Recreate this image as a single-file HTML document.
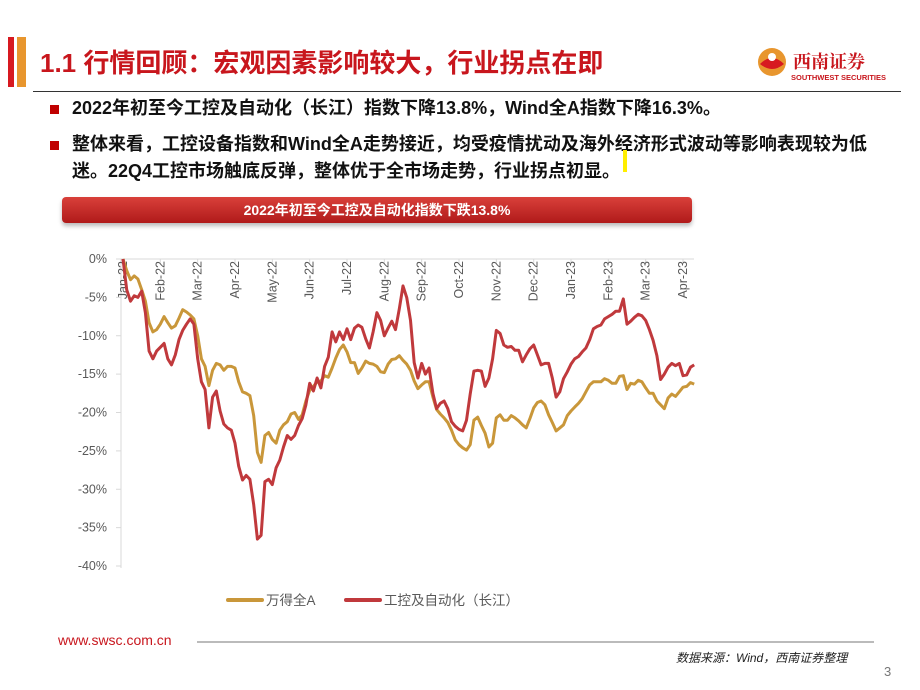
<!DOCTYPE html>
<html><head><meta charset="utf-8"><style>
body{margin:0;background:#fff;}
#page{position:relative;width:920px;height:690px;overflow:hidden;background:#fff;font-family:"Liberation Sans","Noto Sans CJK SC",sans-serif;}
.abs{position:absolute;}
.bul{position:absolute;left:72px;font-size:18px;font-weight:bold;color:#111;line-height:27px;width:818px;}
.sq{position:absolute;left:50px;width:9px;height:9px;background:#c00000;}
</style></head><body>
<div id="page">
  <div class="abs" style="left:8px;top:37px;width:6px;height:50px;background:#d71920"></div>
  <div class="abs" style="left:17px;top:37px;width:9px;height:50px;background:#e8962e"></div>
  <div class="abs" style="left:40px;top:43px;font-size:26px;font-weight:bold;color:#c8161d;">1.1 行情回顾：宏观因素影响较大，行业拐点在即</div>
  <div class="abs" style="left:757px;top:44px;width:140px;height:40px;">
    <svg width="140" height="40"><circle cx="15" cy="18" r="14" fill="#e8962e"/><path d="M3 20 Q15 8 27 20 Q15 30 3 20Z" fill="#d71920"/><circle cx="15" cy="13" r="4" fill="#fff"/>
    <text x="36" y="24" font-size="18" font-weight="bold" fill="#c8161d" font-family="Noto Serif CJK SC,serif">西南证券</text>
    <text x="34" y="36" font-size="7.5" font-weight="bold" fill="#c8161d">SOUTHWEST SECURITIES</text></svg>
  </div>
  <div class="abs" style="left:33px;top:91px;width:868px;height:1px;background:#333"></div>
  <div class="sq" style="top:105px"></div>
  <div class="bul" style="top:95px">2022年初至今工控及自动化（长江）指数下降13.8%，Wind全A指数下降16.3%。</div>
  <div class="sq" style="top:141px"></div>
  <div class="bul" style="top:131px">整体来看，工控设备指数和Wind全A走势接近，均受疫情扰动及海外经济形式波动等影响表现较为低迷。22Q4工控市场触底反弹，整体优于全市场走势，行业拐点初显。</div>
  <div class="abs" style="left:623px;top:150px;width:4px;height:22px;background:#ffee00"></div>
  <div class="abs" style="left:62px;top:197px;width:630px;height:26px;background:linear-gradient(#d9403a,#b01a1a);border-radius:4px;box-shadow:0 3px 4px #bbb;color:#fff;font-size:14px;font-weight:bold;text-align:center;line-height:26px;">2022年初至今工控及自动化指数下跌13.8%</div>
  <svg id="chart" class="abs" style="left:0;top:0" width="920" height="690"></svg>
  <div class="abs" style="left:58px;top:632px;font-size:14px;color:#c8161d;">www.swsc.com.cn</div>
  <div class="abs" style="left:197px;top:641px;width:677px;height:2px;background:#bbb"></div>
  <div class="abs" style="left:676px;top:649px;font-size:12px;font-style:italic;color:#222;">数据来源：Wind，西南证券整理</div>
  <div class="abs" style="left:884px;top:664px;font-size:13px;color:#777;">3</div>
</div>
<script>
const monthLabels=["Jan-22","Feb-22","Mar-22","Apr-22","May-22","Jun-22","Jul-22","Aug-22","Sep-22","Oct-22","Nov-22","Dec-22","Jan-23","Feb-23","Mar-23","Apr-23"];
const yTicks=[0,-5,-10,-15,-20,-25,-30,-35,-40];
const stepMonths=0.1;
const seriesRed=[0,-4,-5.5,-4.8,-5,-4.2,-7,-12,-13,-12,-11.5,-11,-13,-13.8,-12.5,-10.5,-9.3,-8.5,-7.8,-8.5,-13,-16,-17,-22,-18,-17.2,-19.8,-21.5,-22,-22.3,-24,-27,-28.8,-28.2,-28.7,-32,-36.5,-36,-29,-28.7,-29.4,-27.2,-26.2,-24.5,-23,-23.5,-23,-21.7,-20.8,-19,-16.2,-17.2,-15.5,-16.8,-14,-12.8,-9.5,-10.8,-9.5,-10.5,-9.1,-10.5,-9,-8.6,-8.9,-10.4,-11.6,-9.5,-7,-8,-10,-9,-8.1,-9.2,-6.5,-3.5,-5,-8,-13.5,-15.5,-13.6,-15,-14.2,-17.5,-19.5,-18.8,-18.5,-19.5,-21.2,-21.8,-22.2,-22.4,-21,-17.6,-14.6,-14.5,-14.6,-16.6,-15.5,-13,-9.3,-9.7,-11.2,-11.5,-11.4,-11.9,-11.9,-13.4,-12.5,-11.7,-11.2,-12.5,-13.8,-13.6,-13.6,-15.5,-18,-17.3,-15.6,-14.7,-13.7,-13,-12.7,-12.1,-11.6,-10.5,-9.1,-8.8,-8.6,-7.8,-7.5,-7.2,-6.8,-6.8,-5.2,-8.5,-8.1,-7.6,-7.2,-7.4,-8,-9.2,-10.6,-12.6,-15.7,-15,-14.1,-13.6,-13.9,-13.6,-15.2,-15.1,-14.1,-13.8];
const seriesGold=[0,-1.5,-2.7,-2.2,-2.6,-4,-5.5,-8.3,-9.5,-9.2,-8.5,-7.5,-8.3,-9,-8.7,-7.7,-6.6,-6.9,-7.3,-7.8,-10,-13,-14,-16.5,-14.5,-13.6,-13.8,-14.5,-14,-14,-14.2,-16,-17.3,-17.5,-17.8,-20.4,-25.2,-26.5,-23,-22.6,-23.5,-24,-22.3,-21.6,-21.2,-20.2,-20,-20.9,-20.3,-18.5,-17.1,-16.6,-16,-15.9,-15.2,-15.4,-14.2,-12.9,-11.8,-11.2,-12.1,-13.5,-13.5,-14.9,-14.2,-13.3,-13.6,-13.7,-14,-14.7,-14.8,-13.7,-13.1,-13,-12.6,-13.2,-13.7,-14.5,-15.9,-16.9,-16.4,-16,-16,-18,-19.6,-20.2,-20.7,-21.3,-22.3,-23.6,-24.2,-24.6,-24.9,-24.2,-21,-20.6,-21.7,-22.7,-24.5,-24,-20.7,-20.3,-21,-21,-20.4,-20.7,-21.1,-21.6,-22,-20.8,-19.4,-18.7,-18.5,-19,-20.3,-21.3,-22.4,-22,-21.6,-20.4,-19.8,-19.3,-18.8,-18.2,-17.3,-16.4,-16,-16,-16,-15.6,-15.8,-16.2,-16.2,-15.3,-15.2,-17,-16.2,-16.3,-15.8,-16,-16.8,-17.5,-17.5,-18.5,-19,-19.5,-18.1,-17.6,-17.9,-17.3,-16.7,-16.6,-16.1,-16.3];
const legendNames=["万得全A","工控及自动化（长江）"];
const NS="http://www.w3.org/2000/svg";
const svg=document.getElementById('chart');
const X0=123,X15=683,Y0=259,Y40=566;
const xM=m=>X0+m*(X15-X0)/15;
const yV=v=>Y0+(-v)*(Y40-Y0)/40;
function mk(tag,attrs,parent){const e=document.createElementNS(NS,tag);for(const k in attrs)e.setAttribute(k,attrs[k]);(parent||svg).appendChild(e);return e;}
let ax=mk('line',{x1:121,y1:Y0,x2:121,y2:Y40+2,stroke:'#d9d9d9','stroke-width':1});


let ax2=mk('line',{x1:121,y1:Y0,x2:694,y2:Y0,stroke:'#d9d9d9','stroke-width':1});


yTicks.forEach(v=>{
  mk('line',{x1:116,y1:yV(v),x2:121,y2:yV(v),stroke:'#d9d9d9'});
  const t=mk('text',{x:107,y:yV(v)+4,'text-anchor':'end','font-size':12.5,fill:'#595959'});
  t.textContent=v+'%';
  
  
});
monthLabels.forEach((lab,i)=>{
  const x=xM(i);
  mk('line',{x1:x,y1:Y0,x2:x,y2:Y0+5,stroke:'#d9d9d9'});
  const t=mk('text',{x:0,y:0,'text-anchor':'end','font-size':12.5,fill:'#595959',transform:`translate(${x+4},${Y0+2}) rotate(-90)`});
  t.textContent=lab;
  
  
});
function line(data,color,name){
  const d=data.map((v,i)=>(i?'L':'M')+xM(i*stepMonths).toFixed(1)+' '+yV(v).toFixed(1)).join(' ');
  const p=mk('path',{d:d,fill:'none',stroke:color,'stroke-width':3,'stroke-linejoin':'round'});
  
  
}
line(seriesGold,'#c9973a','series-wind-all-a');
line(seriesRed,'#c0393c','series-industrial-control');
const lg=[[228,'#c9973a'],[346,'#c0393c']];
lg.forEach((l,i)=>{
  const g=mk('g',{});
  
  
  mk('line',{x1:l[0],y1:600,x2:l[0]+34,y2:600,stroke:l[1],'stroke-width':4,'stroke-linecap':'round'},g);
  const t=mk('text',{x:l[0]+38,y:605,'font-size':13.5,fill:'#595959'},g);
  t.textContent=legendNames[i];
});
</script>
</body></html>
